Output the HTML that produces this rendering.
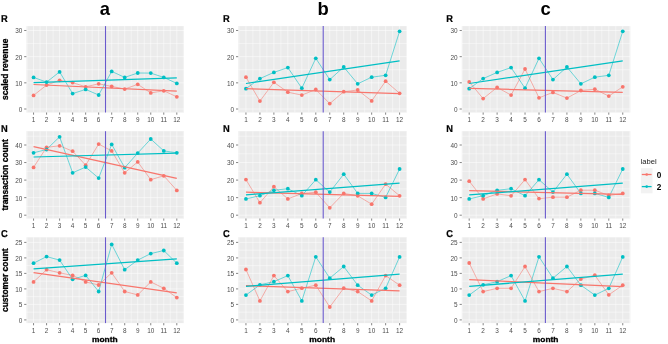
<!DOCTYPE html>
<html><head><meta charset="utf-8"><title>chart</title>
<style>
html,body{margin:0;padding:0;background:#fff;}
body{width:668px;height:344px;overflow:hidden;}
svg{display:block;filter:blur(0.4px);font-family:"Liberation Sans",sans-serif;}
</style></head><body>
<svg width="668" height="344" viewBox="0 0 668 344">
<rect width="668" height="344" fill="#fff"/>
<text x="104.8" y="14.6" font-size="18.4" font-weight="bold" text-anchor="middle" fill="#000">a</text>
<rect x="26.4" y="26.1" width="157.6" height="86.4" fill="#EBEBEB"/>
<path d="M26.4 95.91H184M26.4 69.75H184M26.4 43.58H184M27.05 26.1V112.5M40.07 26.1V112.5M53.09 26.1V112.5M66.11 26.1V112.5M79.14 26.1V112.5M92.16 26.1V112.5M105.18 26.1V112.5M118.2 26.1V112.5M131.22 26.1V112.5M144.25 26.1V112.5M157.27 26.1V112.5M170.29 26.1V112.5M183.31 26.1V112.5" stroke="#fff" stroke-opacity="0.5" stroke-width="0.9" fill="none"/>
<path d="M26.4 109H184M26.4 82.83H184M26.4 56.66H184M26.4 30.49H184M33.56 26.1V112.5M46.58 26.1V112.5M59.6 26.1V112.5M72.63 26.1V112.5M85.65 26.1V112.5M98.67 26.1V112.5M111.69 26.1V112.5M124.71 26.1V112.5M137.73 26.1V112.5M150.76 26.1V112.5M163.78 26.1V112.5M176.8 26.1V112.5" stroke="#fff" stroke-opacity="0.52" stroke-width="1" fill="none"/>
<path d="M24.2 109H26.4M24.2 82.83H26.4M24.2 56.66H26.4M24.2 30.49H26.4M33.56 112.5V114.7M46.58 112.5V114.7M59.6 112.5V114.7M72.63 112.5V114.7M85.65 112.5V114.7M98.67 112.5V114.7M111.69 112.5V114.7M124.71 112.5V114.7M137.73 112.5V114.7M150.76 112.5V114.7M163.78 112.5V114.7M176.8 112.5V114.7" stroke="#666" stroke-width="0.8" fill="none"/>
<text x="22.3" y="111.9" font-size="7.3" text-anchor="end" fill="#4D4D4D" transform="matrix(0.88 0 0 1 2.68 0)">0</text>
<text x="22.3" y="85.73" font-size="7.3" text-anchor="end" fill="#4D4D4D" transform="matrix(0.88 0 0 1 2.68 0)">10</text>
<text x="22.3" y="59.56" font-size="7.3" text-anchor="end" fill="#4D4D4D" transform="matrix(0.88 0 0 1 2.68 0)">20</text>
<text x="22.3" y="33.39" font-size="7.3" text-anchor="end" fill="#4D4D4D" transform="matrix(0.88 0 0 1 2.68 0)">30</text>
<text x="33.56" y="122.2" font-size="7.3" text-anchor="middle" fill="#4D4D4D" transform="matrix(0.88 0 0 1 4.03 0)">1</text>
<text x="46.58" y="122.2" font-size="7.3" text-anchor="middle" fill="#4D4D4D" transform="matrix(0.88 0 0 1 5.59 0)">2</text>
<text x="59.6" y="122.2" font-size="7.3" text-anchor="middle" fill="#4D4D4D" transform="matrix(0.88 0 0 1 7.15 0)">3</text>
<text x="72.63" y="122.2" font-size="7.3" text-anchor="middle" fill="#4D4D4D" transform="matrix(0.88 0 0 1 8.72 0)">4</text>
<text x="85.65" y="122.2" font-size="7.3" text-anchor="middle" fill="#4D4D4D" transform="matrix(0.88 0 0 1 10.28 0)">5</text>
<text x="98.67" y="122.2" font-size="7.3" text-anchor="middle" fill="#4D4D4D" transform="matrix(0.88 0 0 1 11.84 0)">6</text>
<text x="111.69" y="122.2" font-size="7.3" text-anchor="middle" fill="#4D4D4D" transform="matrix(0.88 0 0 1 13.4 0)">7</text>
<text x="124.71" y="122.2" font-size="7.3" text-anchor="middle" fill="#4D4D4D" transform="matrix(0.88 0 0 1 14.97 0)">8</text>
<text x="137.73" y="122.2" font-size="7.3" text-anchor="middle" fill="#4D4D4D" transform="matrix(0.88 0 0 1 16.53 0)">9</text>
<text x="150.76" y="122.2" font-size="7.3" text-anchor="middle" fill="#4D4D4D" transform="matrix(0.88 0 0 1 18.09 0)">10</text>
<text x="163.78" y="122.2" font-size="7.3" text-anchor="middle" fill="#4D4D4D" transform="matrix(0.88 0 0 1 19.65 0)">11</text>
<text x="176.8" y="122.2" font-size="7.3" text-anchor="middle" fill="#4D4D4D" transform="matrix(0.88 0 0 1 21.22 0)">12</text>
<polyline points="33.56,95.4 46.58,85.1 59.6,80.3 72.63,82.6 85.65,86.8 98.67,83.8 111.69,86.4 124.71,89.1 137.73,84.3 150.76,92.9 163.78,90.8 176.8,96.8" fill="none" stroke="#F8766D" stroke-width="0.55"/>
<polyline points="33.56,77.4 46.58,82.1 59.6,71.9 72.63,93.6 85.65,89.4 98.67,95 111.69,71.4 124.71,77.4 137.73,73 150.76,73.1 163.78,77.4 176.8,83.4" fill="none" stroke="#00BFC4" stroke-width="0.55"/>
<circle cx="33.56" cy="95.4" r="1.9" fill="#F8766D"/>
<circle cx="46.58" cy="85.1" r="1.9" fill="#F8766D"/>
<circle cx="59.6" cy="80.3" r="1.9" fill="#F8766D"/>
<circle cx="72.63" cy="82.6" r="1.9" fill="#F8766D"/>
<circle cx="85.65" cy="86.8" r="1.9" fill="#F8766D"/>
<circle cx="98.67" cy="83.8" r="1.9" fill="#F8766D"/>
<circle cx="111.69" cy="86.4" r="1.9" fill="#F8766D"/>
<circle cx="124.71" cy="89.1" r="1.9" fill="#F8766D"/>
<circle cx="137.73" cy="84.3" r="1.9" fill="#F8766D"/>
<circle cx="150.76" cy="92.9" r="1.9" fill="#F8766D"/>
<circle cx="163.78" cy="90.8" r="1.9" fill="#F8766D"/>
<circle cx="176.8" cy="96.8" r="1.9" fill="#F8766D"/>
<circle cx="33.56" cy="77.4" r="1.9" fill="#00BFC4"/>
<circle cx="46.58" cy="82.1" r="1.9" fill="#00BFC4"/>
<circle cx="59.6" cy="71.9" r="1.9" fill="#00BFC4"/>
<circle cx="72.63" cy="93.6" r="1.9" fill="#00BFC4"/>
<circle cx="85.65" cy="89.4" r="1.9" fill="#00BFC4"/>
<circle cx="98.67" cy="95" r="1.9" fill="#00BFC4"/>
<circle cx="111.69" cy="71.4" r="1.9" fill="#00BFC4"/>
<circle cx="124.71" cy="77.4" r="1.9" fill="#00BFC4"/>
<circle cx="137.73" cy="73" r="1.9" fill="#00BFC4"/>
<circle cx="150.76" cy="73.1" r="1.9" fill="#00BFC4"/>
<circle cx="163.78" cy="77.4" r="1.9" fill="#00BFC4"/>
<circle cx="176.8" cy="83.4" r="1.9" fill="#00BFC4"/>
<line x1="33.56" y1="84.5" x2="176.8" y2="91.1" stroke="#F8766D" stroke-width="1.25"/>
<line x1="33.56" y1="82.7" x2="176.8" y2="77.8" stroke="#00BFC4" stroke-width="1.25"/>
<line x1="105.5" y1="26.1" x2="105.5" y2="112.5" stroke="#6A5ACD" stroke-width="1.1"/>
<text x="1" y="22.4" font-size="10" font-weight="bold" fill="#000" stroke="#000" stroke-width="0.2" text-rendering="geometricPrecision" transform="matrix(0.93 0 0 1 0.07 0)">R</text>
<text transform="translate(7.9 69.3) rotate(-90)" font-size="8.5" font-weight="bold" text-anchor="middle" fill="#000" stroke="#000" stroke-width="0.3">scaled revenue</text>
<rect x="26.4" y="131.2" width="157.6" height="87.3" fill="#EBEBEB"/>
<path d="M26.4 206.43H184M26.4 188.88H184M26.4 171.33H184M26.4 153.78H184M26.4 136.23H184M27.05 131.2V218.5M40.07 131.2V218.5M53.09 131.2V218.5M66.11 131.2V218.5M79.14 131.2V218.5M92.16 131.2V218.5M105.18 131.2V218.5M118.2 131.2V218.5M131.22 131.2V218.5M144.25 131.2V218.5M157.27 131.2V218.5M170.29 131.2V218.5M183.31 131.2V218.5" stroke="#fff" stroke-opacity="0.5" stroke-width="0.9" fill="none"/>
<path d="M26.4 215.2H184M26.4 197.65H184M26.4 180.1H184M26.4 162.55H184M26.4 145H184M33.56 131.2V218.5M46.58 131.2V218.5M59.6 131.2V218.5M72.63 131.2V218.5M85.65 131.2V218.5M98.67 131.2V218.5M111.69 131.2V218.5M124.71 131.2V218.5M137.73 131.2V218.5M150.76 131.2V218.5M163.78 131.2V218.5M176.8 131.2V218.5" stroke="#fff" stroke-opacity="0.52" stroke-width="1" fill="none"/>
<path d="M24.2 215.2H26.4M24.2 197.65H26.4M24.2 180.1H26.4M24.2 162.55H26.4M24.2 145H26.4M33.56 218.5V220.7M46.58 218.5V220.7M59.6 218.5V220.7M72.63 218.5V220.7M85.65 218.5V220.7M98.67 218.5V220.7M111.69 218.5V220.7M124.71 218.5V220.7M137.73 218.5V220.7M150.76 218.5V220.7M163.78 218.5V220.7M176.8 218.5V220.7" stroke="#666" stroke-width="0.8" fill="none"/>
<text x="22.3" y="218.1" font-size="7.3" text-anchor="end" fill="#4D4D4D" transform="matrix(0.88 0 0 1 2.68 0)">0</text>
<text x="22.3" y="200.55" font-size="7.3" text-anchor="end" fill="#4D4D4D" transform="matrix(0.88 0 0 1 2.68 0)">10</text>
<text x="22.3" y="183" font-size="7.3" text-anchor="end" fill="#4D4D4D" transform="matrix(0.88 0 0 1 2.68 0)">20</text>
<text x="22.3" y="165.45" font-size="7.3" text-anchor="end" fill="#4D4D4D" transform="matrix(0.88 0 0 1 2.68 0)">30</text>
<text x="22.3" y="147.9" font-size="7.3" text-anchor="end" fill="#4D4D4D" transform="matrix(0.88 0 0 1 2.68 0)">40</text>
<text x="33.56" y="228.2" font-size="7.3" text-anchor="middle" fill="#4D4D4D" transform="matrix(0.88 0 0 1 4.03 0)">1</text>
<text x="46.58" y="228.2" font-size="7.3" text-anchor="middle" fill="#4D4D4D" transform="matrix(0.88 0 0 1 5.59 0)">2</text>
<text x="59.6" y="228.2" font-size="7.3" text-anchor="middle" fill="#4D4D4D" transform="matrix(0.88 0 0 1 7.15 0)">3</text>
<text x="72.63" y="228.2" font-size="7.3" text-anchor="middle" fill="#4D4D4D" transform="matrix(0.88 0 0 1 8.72 0)">4</text>
<text x="85.65" y="228.2" font-size="7.3" text-anchor="middle" fill="#4D4D4D" transform="matrix(0.88 0 0 1 10.28 0)">5</text>
<text x="98.67" y="228.2" font-size="7.3" text-anchor="middle" fill="#4D4D4D" transform="matrix(0.88 0 0 1 11.84 0)">6</text>
<text x="111.69" y="228.2" font-size="7.3" text-anchor="middle" fill="#4D4D4D" transform="matrix(0.88 0 0 1 13.4 0)">7</text>
<text x="124.71" y="228.2" font-size="7.3" text-anchor="middle" fill="#4D4D4D" transform="matrix(0.88 0 0 1 14.97 0)">8</text>
<text x="137.73" y="228.2" font-size="7.3" text-anchor="middle" fill="#4D4D4D" transform="matrix(0.88 0 0 1 16.53 0)">9</text>
<text x="150.76" y="228.2" font-size="7.3" text-anchor="middle" fill="#4D4D4D" transform="matrix(0.88 0 0 1 18.09 0)">10</text>
<text x="163.78" y="228.2" font-size="7.3" text-anchor="middle" fill="#4D4D4D" transform="matrix(0.88 0 0 1 19.65 0)">11</text>
<text x="176.8" y="228.2" font-size="7.3" text-anchor="middle" fill="#4D4D4D" transform="matrix(0.88 0 0 1 21.22 0)">12</text>
<polyline points="33.56,167.4 46.58,147.3 59.6,145.8 72.63,151.2 85.65,165.2 98.67,144.1 111.69,150.9 124.71,172.8 137.73,161.9 150.76,179.7 163.78,175.8 176.8,190.4" fill="none" stroke="#F8766D" stroke-width="0.55"/>
<polyline points="33.56,152.8 46.58,149.5 59.6,136.8 72.63,172.8 85.65,167.1 98.67,178.1 111.69,144.4 124.71,167.7 137.73,153.1 150.76,139 163.78,150.9 176.8,152.8" fill="none" stroke="#00BFC4" stroke-width="0.55"/>
<circle cx="33.56" cy="167.4" r="1.9" fill="#F8766D"/>
<circle cx="46.58" cy="147.3" r="1.9" fill="#F8766D"/>
<circle cx="59.6" cy="145.8" r="1.9" fill="#F8766D"/>
<circle cx="72.63" cy="151.2" r="1.9" fill="#F8766D"/>
<circle cx="85.65" cy="165.2" r="1.9" fill="#F8766D"/>
<circle cx="98.67" cy="144.1" r="1.9" fill="#F8766D"/>
<circle cx="111.69" cy="150.9" r="1.9" fill="#F8766D"/>
<circle cx="124.71" cy="172.8" r="1.9" fill="#F8766D"/>
<circle cx="137.73" cy="161.9" r="1.9" fill="#F8766D"/>
<circle cx="150.76" cy="179.7" r="1.9" fill="#F8766D"/>
<circle cx="163.78" cy="175.8" r="1.9" fill="#F8766D"/>
<circle cx="176.8" cy="190.4" r="1.9" fill="#F8766D"/>
<circle cx="33.56" cy="152.8" r="1.9" fill="#00BFC4"/>
<circle cx="46.58" cy="149.5" r="1.9" fill="#00BFC4"/>
<circle cx="59.6" cy="136.8" r="1.9" fill="#00BFC4"/>
<circle cx="72.63" cy="172.8" r="1.9" fill="#00BFC4"/>
<circle cx="85.65" cy="167.1" r="1.9" fill="#00BFC4"/>
<circle cx="98.67" cy="178.1" r="1.9" fill="#00BFC4"/>
<circle cx="111.69" cy="144.4" r="1.9" fill="#00BFC4"/>
<circle cx="124.71" cy="167.7" r="1.9" fill="#00BFC4"/>
<circle cx="137.73" cy="153.1" r="1.9" fill="#00BFC4"/>
<circle cx="150.76" cy="139" r="1.9" fill="#00BFC4"/>
<circle cx="163.78" cy="150.9" r="1.9" fill="#00BFC4"/>
<circle cx="176.8" cy="152.8" r="1.9" fill="#00BFC4"/>
<line x1="33.56" y1="146.6" x2="176.8" y2="178.3" stroke="#F8766D" stroke-width="1.25"/>
<line x1="33.56" y1="157" x2="176.8" y2="153.1" stroke="#00BFC4" stroke-width="1.25"/>
<line x1="105.5" y1="131.2" x2="105.5" y2="218.5" stroke="#6A5ACD" stroke-width="1.1"/>
<text x="1" y="131.6" font-size="10" font-weight="bold" fill="#000" stroke="#000" stroke-width="0.2" text-rendering="geometricPrecision" transform="matrix(0.93 0 0 1 0.07 0)">N</text>
<text transform="translate(7.9 174.85) rotate(-90)" font-size="8.5" font-weight="bold" text-anchor="middle" fill="#000" stroke="#000" stroke-width="0.3">transaction count</text>
<rect x="26.4" y="237.3" width="157.6" height="85.8" fill="#EBEBEB"/>
<path d="M26.4 312.15H184M26.4 296.65H184M26.4 281.15H184M26.4 265.65H184M26.4 250.15H184M27.05 237.3V323.1M40.07 237.3V323.1M53.09 237.3V323.1M66.11 237.3V323.1M79.14 237.3V323.1M92.16 237.3V323.1M105.18 237.3V323.1M118.2 237.3V323.1M131.22 237.3V323.1M144.25 237.3V323.1M157.27 237.3V323.1M170.29 237.3V323.1M183.31 237.3V323.1" stroke="#fff" stroke-opacity="0.5" stroke-width="0.9" fill="none"/>
<path d="M26.4 319.9H184M26.4 304.4H184M26.4 288.9H184M26.4 273.4H184M26.4 257.9H184M26.4 242.4H184M33.56 237.3V323.1M46.58 237.3V323.1M59.6 237.3V323.1M72.63 237.3V323.1M85.65 237.3V323.1M98.67 237.3V323.1M111.69 237.3V323.1M124.71 237.3V323.1M137.73 237.3V323.1M150.76 237.3V323.1M163.78 237.3V323.1M176.8 237.3V323.1" stroke="#fff" stroke-opacity="0.52" stroke-width="1" fill="none"/>
<path d="M24.2 319.9H26.4M24.2 304.4H26.4M24.2 288.9H26.4M24.2 273.4H26.4M24.2 257.9H26.4M24.2 242.4H26.4M33.56 323.1V325.3M46.58 323.1V325.3M59.6 323.1V325.3M72.63 323.1V325.3M85.65 323.1V325.3M98.67 323.1V325.3M111.69 323.1V325.3M124.71 323.1V325.3M137.73 323.1V325.3M150.76 323.1V325.3M163.78 323.1V325.3M176.8 323.1V325.3" stroke="#666" stroke-width="0.8" fill="none"/>
<text x="22.3" y="322.8" font-size="7.3" text-anchor="end" fill="#4D4D4D" transform="matrix(0.88 0 0 1 2.68 0)">0</text>
<text x="22.3" y="307.3" font-size="7.3" text-anchor="end" fill="#4D4D4D" transform="matrix(0.88 0 0 1 2.68 0)">5</text>
<text x="22.3" y="291.8" font-size="7.3" text-anchor="end" fill="#4D4D4D" transform="matrix(0.88 0 0 1 2.68 0)">10</text>
<text x="22.3" y="276.3" font-size="7.3" text-anchor="end" fill="#4D4D4D" transform="matrix(0.88 0 0 1 2.68 0)">15</text>
<text x="22.3" y="260.8" font-size="7.3" text-anchor="end" fill="#4D4D4D" transform="matrix(0.88 0 0 1 2.68 0)">20</text>
<text x="22.3" y="245.3" font-size="7.3" text-anchor="end" fill="#4D4D4D" transform="matrix(0.88 0 0 1 2.68 0)">25</text>
<text x="33.56" y="332.8" font-size="7.3" text-anchor="middle" fill="#4D4D4D" transform="matrix(0.88 0 0 1 4.03 0)">1</text>
<text x="46.58" y="332.8" font-size="7.3" text-anchor="middle" fill="#4D4D4D" transform="matrix(0.88 0 0 1 5.59 0)">2</text>
<text x="59.6" y="332.8" font-size="7.3" text-anchor="middle" fill="#4D4D4D" transform="matrix(0.88 0 0 1 7.15 0)">3</text>
<text x="72.63" y="332.8" font-size="7.3" text-anchor="middle" fill="#4D4D4D" transform="matrix(0.88 0 0 1 8.72 0)">4</text>
<text x="85.65" y="332.8" font-size="7.3" text-anchor="middle" fill="#4D4D4D" transform="matrix(0.88 0 0 1 10.28 0)">5</text>
<text x="98.67" y="332.8" font-size="7.3" text-anchor="middle" fill="#4D4D4D" transform="matrix(0.88 0 0 1 11.84 0)">6</text>
<text x="111.69" y="332.8" font-size="7.3" text-anchor="middle" fill="#4D4D4D" transform="matrix(0.88 0 0 1 13.4 0)">7</text>
<text x="124.71" y="332.8" font-size="7.3" text-anchor="middle" fill="#4D4D4D" transform="matrix(0.88 0 0 1 14.97 0)">8</text>
<text x="137.73" y="332.8" font-size="7.3" text-anchor="middle" fill="#4D4D4D" transform="matrix(0.88 0 0 1 16.53 0)">9</text>
<text x="150.76" y="332.8" font-size="7.3" text-anchor="middle" fill="#4D4D4D" transform="matrix(0.88 0 0 1 18.09 0)">10</text>
<text x="163.78" y="332.8" font-size="7.3" text-anchor="middle" fill="#4D4D4D" transform="matrix(0.88 0 0 1 19.65 0)">11</text>
<text x="176.8" y="332.8" font-size="7.3" text-anchor="middle" fill="#4D4D4D" transform="matrix(0.88 0 0 1 21.22 0)">12</text>
<polyline points="33.56,281.9 46.58,269.7 59.6,272.8 72.63,275.4 85.65,281.9 98.67,285 111.69,272.8 124.71,291.5 137.73,294.9 150.76,281.9 163.78,288.3 176.8,297.6" fill="none" stroke="#F8766D" stroke-width="0.55"/>
<polyline points="33.56,263.2 46.58,256.6 59.6,260.1 72.63,279.3 85.65,275.4 98.67,291.5 111.69,244.4 124.71,269.7 137.73,260.1 150.76,253.6 163.78,250.5 176.8,263.2" fill="none" stroke="#00BFC4" stroke-width="0.55"/>
<circle cx="33.56" cy="281.9" r="1.9" fill="#F8766D"/>
<circle cx="46.58" cy="269.7" r="1.9" fill="#F8766D"/>
<circle cx="59.6" cy="272.8" r="1.9" fill="#F8766D"/>
<circle cx="72.63" cy="275.4" r="1.9" fill="#F8766D"/>
<circle cx="85.65" cy="281.9" r="1.9" fill="#F8766D"/>
<circle cx="98.67" cy="285" r="1.9" fill="#F8766D"/>
<circle cx="111.69" cy="272.8" r="1.9" fill="#F8766D"/>
<circle cx="124.71" cy="291.5" r="1.9" fill="#F8766D"/>
<circle cx="137.73" cy="294.9" r="1.9" fill="#F8766D"/>
<circle cx="150.76" cy="281.9" r="1.9" fill="#F8766D"/>
<circle cx="163.78" cy="288.3" r="1.9" fill="#F8766D"/>
<circle cx="176.8" cy="297.6" r="1.9" fill="#F8766D"/>
<circle cx="33.56" cy="263.2" r="1.9" fill="#00BFC4"/>
<circle cx="46.58" cy="256.6" r="1.9" fill="#00BFC4"/>
<circle cx="59.6" cy="260.1" r="1.9" fill="#00BFC4"/>
<circle cx="72.63" cy="279.3" r="1.9" fill="#00BFC4"/>
<circle cx="85.65" cy="275.4" r="1.9" fill="#00BFC4"/>
<circle cx="98.67" cy="291.5" r="1.9" fill="#00BFC4"/>
<circle cx="111.69" cy="244.4" r="1.9" fill="#00BFC4"/>
<circle cx="124.71" cy="269.7" r="1.9" fill="#00BFC4"/>
<circle cx="137.73" cy="260.1" r="1.9" fill="#00BFC4"/>
<circle cx="150.76" cy="253.6" r="1.9" fill="#00BFC4"/>
<circle cx="163.78" cy="250.5" r="1.9" fill="#00BFC4"/>
<circle cx="176.8" cy="263.2" r="1.9" fill="#00BFC4"/>
<line x1="33.56" y1="272.6" x2="176.8" y2="292.9" stroke="#F8766D" stroke-width="1.25"/>
<line x1="33.56" y1="268.8" x2="176.8" y2="258.9" stroke="#00BFC4" stroke-width="1.25"/>
<line x1="105.5" y1="237.3" x2="105.5" y2="323.1" stroke="#6A5ACD" stroke-width="1.1"/>
<text x="1" y="236.5" font-size="10" font-weight="bold" fill="#000" stroke="#000" stroke-width="0.2" text-rendering="geometricPrecision" transform="matrix(0.93 0 0 1 0.07 0)">C</text>
<text transform="translate(7.9 280.2) rotate(-90)" font-size="8.5" font-weight="bold" text-anchor="middle" fill="#000" stroke="#000" stroke-width="0.3">customer count</text>
<text x="104.8" y="342.4" font-size="7.6" font-weight="bold" text-anchor="middle" fill="#000" stroke="#000" stroke-width="0.3" transform="matrix(1.11 0 0 1 -11.53 0)">month</text>
<text x="323" y="14.6" font-size="18.4" font-weight="bold" text-anchor="middle" fill="#000">b</text>
<rect x="238.2" y="26.1" width="168.8" height="86.4" fill="#EBEBEB"/>
<path d="M238.2 95.91H407M238.2 69.75H407M238.2 43.58H407M238.97 26.1V112.5M252.93 26.1V112.5M266.9 26.1V112.5M280.87 26.1V112.5M294.84 26.1V112.5M308.81 26.1V112.5M322.77 26.1V112.5M336.74 26.1V112.5M350.71 26.1V112.5M364.68 26.1V112.5M378.65 26.1V112.5M392.62 26.1V112.5M406.58 26.1V112.5" stroke="#fff" stroke-opacity="0.5" stroke-width="0.9" fill="none"/>
<path d="M238.2 109H407M238.2 82.83H407M238.2 56.66H407M238.2 30.49H407M245.95 26.1V112.5M259.92 26.1V112.5M273.89 26.1V112.5M287.85 26.1V112.5M301.82 26.1V112.5M315.79 26.1V112.5M329.76 26.1V112.5M343.73 26.1V112.5M357.7 26.1V112.5M371.66 26.1V112.5M385.63 26.1V112.5M399.6 26.1V112.5" stroke="#fff" stroke-opacity="0.52" stroke-width="1" fill="none"/>
<path d="M236 109H238.2M236 82.83H238.2M236 56.66H238.2M236 30.49H238.2M245.95 112.5V114.7M259.92 112.5V114.7M273.89 112.5V114.7M287.85 112.5V114.7M301.82 112.5V114.7M315.79 112.5V114.7M329.76 112.5V114.7M343.73 112.5V114.7M357.7 112.5V114.7M371.66 112.5V114.7M385.63 112.5V114.7M399.6 112.5V114.7" stroke="#666" stroke-width="0.8" fill="none"/>
<text x="234.1" y="111.9" font-size="7.3" text-anchor="end" fill="#4D4D4D" transform="matrix(0.88 0 0 1 28.09 0)">0</text>
<text x="234.1" y="85.73" font-size="7.3" text-anchor="end" fill="#4D4D4D" transform="matrix(0.88 0 0 1 28.09 0)">10</text>
<text x="234.1" y="59.56" font-size="7.3" text-anchor="end" fill="#4D4D4D" transform="matrix(0.88 0 0 1 28.09 0)">20</text>
<text x="234.1" y="33.39" font-size="7.3" text-anchor="end" fill="#4D4D4D" transform="matrix(0.88 0 0 1 28.09 0)">30</text>
<text x="245.95" y="122.2" font-size="7.3" text-anchor="middle" fill="#4D4D4D" transform="matrix(0.88 0 0 1 29.51 0)">1</text>
<text x="259.92" y="122.2" font-size="7.3" text-anchor="middle" fill="#4D4D4D" transform="matrix(0.88 0 0 1 31.19 0)">2</text>
<text x="273.89" y="122.2" font-size="7.3" text-anchor="middle" fill="#4D4D4D" transform="matrix(0.88 0 0 1 32.87 0)">3</text>
<text x="287.85" y="122.2" font-size="7.3" text-anchor="middle" fill="#4D4D4D" transform="matrix(0.88 0 0 1 34.54 0)">4</text>
<text x="301.82" y="122.2" font-size="7.3" text-anchor="middle" fill="#4D4D4D" transform="matrix(0.88 0 0 1 36.22 0)">5</text>
<text x="315.79" y="122.2" font-size="7.3" text-anchor="middle" fill="#4D4D4D" transform="matrix(0.88 0 0 1 37.89 0)">6</text>
<text x="329.76" y="122.2" font-size="7.3" text-anchor="middle" fill="#4D4D4D" transform="matrix(0.88 0 0 1 39.57 0)">7</text>
<text x="343.73" y="122.2" font-size="7.3" text-anchor="middle" fill="#4D4D4D" transform="matrix(0.88 0 0 1 41.25 0)">8</text>
<text x="357.7" y="122.2" font-size="7.3" text-anchor="middle" fill="#4D4D4D" transform="matrix(0.88 0 0 1 42.92 0)">9</text>
<text x="371.66" y="122.2" font-size="7.3" text-anchor="middle" fill="#4D4D4D" transform="matrix(0.88 0 0 1 44.6 0)">10</text>
<text x="385.63" y="122.2" font-size="7.3" text-anchor="middle" fill="#4D4D4D" transform="matrix(0.88 0 0 1 46.28 0)">11</text>
<text x="399.6" y="122.2" font-size="7.3" text-anchor="middle" fill="#4D4D4D" transform="matrix(0.88 0 0 1 47.95 0)">12</text>
<polyline points="245.95,77.2 259.92,101.1 273.89,82.3 287.85,92.2 301.82,95.1 315.79,89.5 329.76,103.6 343.73,91.7 357.7,90 371.66,100.9 385.63,81.2 399.6,93.3" fill="none" stroke="#F8766D" stroke-width="0.55"/>
<polyline points="245.95,88.7 259.92,78.6 273.89,72.4 287.85,67.6 301.82,88.2 315.79,58.3 329.76,79.6 343.73,67 357.7,83.8 371.66,77.2 385.63,75.3 399.6,31.3" fill="none" stroke="#00BFC4" stroke-width="0.55"/>
<circle cx="245.95" cy="77.2" r="1.9" fill="#F8766D"/>
<circle cx="259.92" cy="101.1" r="1.9" fill="#F8766D"/>
<circle cx="273.89" cy="82.3" r="1.9" fill="#F8766D"/>
<circle cx="287.85" cy="92.2" r="1.9" fill="#F8766D"/>
<circle cx="301.82" cy="95.1" r="1.9" fill="#F8766D"/>
<circle cx="315.79" cy="89.5" r="1.9" fill="#F8766D"/>
<circle cx="329.76" cy="103.6" r="1.9" fill="#F8766D"/>
<circle cx="343.73" cy="91.7" r="1.9" fill="#F8766D"/>
<circle cx="357.7" cy="90" r="1.9" fill="#F8766D"/>
<circle cx="371.66" cy="100.9" r="1.9" fill="#F8766D"/>
<circle cx="385.63" cy="81.2" r="1.9" fill="#F8766D"/>
<circle cx="399.6" cy="93.3" r="1.9" fill="#F8766D"/>
<circle cx="245.95" cy="88.7" r="1.9" fill="#00BFC4"/>
<circle cx="259.92" cy="78.6" r="1.9" fill="#00BFC4"/>
<circle cx="273.89" cy="72.4" r="1.9" fill="#00BFC4"/>
<circle cx="287.85" cy="67.6" r="1.9" fill="#00BFC4"/>
<circle cx="301.82" cy="88.2" r="1.9" fill="#00BFC4"/>
<circle cx="315.79" cy="58.3" r="1.9" fill="#00BFC4"/>
<circle cx="329.76" cy="79.6" r="1.9" fill="#00BFC4"/>
<circle cx="343.73" cy="67" r="1.9" fill="#00BFC4"/>
<circle cx="357.7" cy="83.8" r="1.9" fill="#00BFC4"/>
<circle cx="371.66" cy="77.2" r="1.9" fill="#00BFC4"/>
<circle cx="385.63" cy="75.3" r="1.9" fill="#00BFC4"/>
<circle cx="399.6" cy="31.3" r="1.9" fill="#00BFC4"/>
<line x1="245.95" y1="88.7" x2="399.6" y2="93.7" stroke="#F8766D" stroke-width="1.25"/>
<line x1="245.95" y1="83.5" x2="399.6" y2="60.9" stroke="#00BFC4" stroke-width="1.25"/>
<line x1="323.2" y1="26.1" x2="323.2" y2="112.5" stroke="#6A5ACD" stroke-width="1.1"/>
<text x="222.9" y="22.4" font-size="10" font-weight="bold" fill="#000" stroke="#000" stroke-width="0.2" text-rendering="geometricPrecision" transform="matrix(0.93 0 0 1 15.6 0)">R</text>
<rect x="238.2" y="131.2" width="168.8" height="87.3" fill="#EBEBEB"/>
<path d="M238.2 206.43H407M238.2 188.88H407M238.2 171.33H407M238.2 153.78H407M238.2 136.23H407M238.97 131.2V218.5M252.93 131.2V218.5M266.9 131.2V218.5M280.87 131.2V218.5M294.84 131.2V218.5M308.81 131.2V218.5M322.77 131.2V218.5M336.74 131.2V218.5M350.71 131.2V218.5M364.68 131.2V218.5M378.65 131.2V218.5M392.62 131.2V218.5M406.58 131.2V218.5" stroke="#fff" stroke-opacity="0.5" stroke-width="0.9" fill="none"/>
<path d="M238.2 215.2H407M238.2 197.65H407M238.2 180.1H407M238.2 162.55H407M238.2 145H407M245.95 131.2V218.5M259.92 131.2V218.5M273.89 131.2V218.5M287.85 131.2V218.5M301.82 131.2V218.5M315.79 131.2V218.5M329.76 131.2V218.5M343.73 131.2V218.5M357.7 131.2V218.5M371.66 131.2V218.5M385.63 131.2V218.5M399.6 131.2V218.5" stroke="#fff" stroke-opacity="0.52" stroke-width="1" fill="none"/>
<path d="M236 215.2H238.2M236 197.65H238.2M236 180.1H238.2M236 162.55H238.2M236 145H238.2M245.95 218.5V220.7M259.92 218.5V220.7M273.89 218.5V220.7M287.85 218.5V220.7M301.82 218.5V220.7M315.79 218.5V220.7M329.76 218.5V220.7M343.73 218.5V220.7M357.7 218.5V220.7M371.66 218.5V220.7M385.63 218.5V220.7M399.6 218.5V220.7" stroke="#666" stroke-width="0.8" fill="none"/>
<text x="234.1" y="218.1" font-size="7.3" text-anchor="end" fill="#4D4D4D" transform="matrix(0.88 0 0 1 28.09 0)">0</text>
<text x="234.1" y="200.55" font-size="7.3" text-anchor="end" fill="#4D4D4D" transform="matrix(0.88 0 0 1 28.09 0)">10</text>
<text x="234.1" y="183" font-size="7.3" text-anchor="end" fill="#4D4D4D" transform="matrix(0.88 0 0 1 28.09 0)">20</text>
<text x="234.1" y="165.45" font-size="7.3" text-anchor="end" fill="#4D4D4D" transform="matrix(0.88 0 0 1 28.09 0)">30</text>
<text x="234.1" y="147.9" font-size="7.3" text-anchor="end" fill="#4D4D4D" transform="matrix(0.88 0 0 1 28.09 0)">40</text>
<text x="245.95" y="228.2" font-size="7.3" text-anchor="middle" fill="#4D4D4D" transform="matrix(0.88 0 0 1 29.51 0)">1</text>
<text x="259.92" y="228.2" font-size="7.3" text-anchor="middle" fill="#4D4D4D" transform="matrix(0.88 0 0 1 31.19 0)">2</text>
<text x="273.89" y="228.2" font-size="7.3" text-anchor="middle" fill="#4D4D4D" transform="matrix(0.88 0 0 1 32.87 0)">3</text>
<text x="287.85" y="228.2" font-size="7.3" text-anchor="middle" fill="#4D4D4D" transform="matrix(0.88 0 0 1 34.54 0)">4</text>
<text x="301.82" y="228.2" font-size="7.3" text-anchor="middle" fill="#4D4D4D" transform="matrix(0.88 0 0 1 36.22 0)">5</text>
<text x="315.79" y="228.2" font-size="7.3" text-anchor="middle" fill="#4D4D4D" transform="matrix(0.88 0 0 1 37.89 0)">6</text>
<text x="329.76" y="228.2" font-size="7.3" text-anchor="middle" fill="#4D4D4D" transform="matrix(0.88 0 0 1 39.57 0)">7</text>
<text x="343.73" y="228.2" font-size="7.3" text-anchor="middle" fill="#4D4D4D" transform="matrix(0.88 0 0 1 41.25 0)">8</text>
<text x="357.7" y="228.2" font-size="7.3" text-anchor="middle" fill="#4D4D4D" transform="matrix(0.88 0 0 1 42.92 0)">9</text>
<text x="371.66" y="228.2" font-size="7.3" text-anchor="middle" fill="#4D4D4D" transform="matrix(0.88 0 0 1 44.6 0)">10</text>
<text x="385.63" y="228.2" font-size="7.3" text-anchor="middle" fill="#4D4D4D" transform="matrix(0.88 0 0 1 46.28 0)">11</text>
<text x="399.6" y="228.2" font-size="7.3" text-anchor="middle" fill="#4D4D4D" transform="matrix(0.88 0 0 1 47.95 0)">12</text>
<polyline points="245.95,179.6 259.92,202.7 273.89,186.7 287.85,198.9 301.82,193.5 315.79,192.2 329.76,207.8 343.73,193.4 357.7,195.8 371.66,204.2 385.63,184.1 399.6,195.8" fill="none" stroke="#F8766D" stroke-width="0.55"/>
<polyline points="245.95,198.9 259.92,195.7 273.89,190.3 287.85,188.7 301.82,195.7 315.79,179.7 329.76,192.1 343.73,174.2 357.7,193.4 371.66,193.4 385.63,197.4 399.6,169" fill="none" stroke="#00BFC4" stroke-width="0.55"/>
<circle cx="245.95" cy="179.6" r="1.9" fill="#F8766D"/>
<circle cx="259.92" cy="202.7" r="1.9" fill="#F8766D"/>
<circle cx="273.89" cy="186.7" r="1.9" fill="#F8766D"/>
<circle cx="287.85" cy="198.9" r="1.9" fill="#F8766D"/>
<circle cx="301.82" cy="193.5" r="1.9" fill="#F8766D"/>
<circle cx="315.79" cy="192.2" r="1.9" fill="#F8766D"/>
<circle cx="329.76" cy="207.8" r="1.9" fill="#F8766D"/>
<circle cx="343.73" cy="193.4" r="1.9" fill="#F8766D"/>
<circle cx="357.7" cy="195.8" r="1.9" fill="#F8766D"/>
<circle cx="371.66" cy="204.2" r="1.9" fill="#F8766D"/>
<circle cx="385.63" cy="184.1" r="1.9" fill="#F8766D"/>
<circle cx="399.6" cy="195.8" r="1.9" fill="#F8766D"/>
<circle cx="245.95" cy="198.9" r="1.9" fill="#00BFC4"/>
<circle cx="259.92" cy="195.7" r="1.9" fill="#00BFC4"/>
<circle cx="273.89" cy="190.3" r="1.9" fill="#00BFC4"/>
<circle cx="287.85" cy="188.7" r="1.9" fill="#00BFC4"/>
<circle cx="301.82" cy="195.7" r="1.9" fill="#00BFC4"/>
<circle cx="315.79" cy="179.7" r="1.9" fill="#00BFC4"/>
<circle cx="329.76" cy="192.1" r="1.9" fill="#00BFC4"/>
<circle cx="343.73" cy="174.2" r="1.9" fill="#00BFC4"/>
<circle cx="357.7" cy="193.4" r="1.9" fill="#00BFC4"/>
<circle cx="371.66" cy="193.4" r="1.9" fill="#00BFC4"/>
<circle cx="385.63" cy="197.4" r="1.9" fill="#00BFC4"/>
<circle cx="399.6" cy="169" r="1.9" fill="#00BFC4"/>
<line x1="245.95" y1="192.2" x2="399.6" y2="196.3" stroke="#F8766D" stroke-width="1.25"/>
<line x1="245.95" y1="194.8" x2="399.6" y2="183.2" stroke="#00BFC4" stroke-width="1.25"/>
<line x1="323.2" y1="131.2" x2="323.2" y2="218.5" stroke="#6A5ACD" stroke-width="1.1"/>
<text x="222.9" y="131.6" font-size="10" font-weight="bold" fill="#000" stroke="#000" stroke-width="0.2" text-rendering="geometricPrecision" transform="matrix(0.93 0 0 1 15.6 0)">N</text>
<rect x="238.2" y="237.3" width="168.8" height="85.8" fill="#EBEBEB"/>
<path d="M238.2 312.15H407M238.2 296.65H407M238.2 281.15H407M238.2 265.65H407M238.2 250.15H407M238.97 237.3V323.1M252.93 237.3V323.1M266.9 237.3V323.1M280.87 237.3V323.1M294.84 237.3V323.1M308.81 237.3V323.1M322.77 237.3V323.1M336.74 237.3V323.1M350.71 237.3V323.1M364.68 237.3V323.1M378.65 237.3V323.1M392.62 237.3V323.1M406.58 237.3V323.1" stroke="#fff" stroke-opacity="0.5" stroke-width="0.9" fill="none"/>
<path d="M238.2 319.9H407M238.2 304.4H407M238.2 288.9H407M238.2 273.4H407M238.2 257.9H407M238.2 242.4H407M245.95 237.3V323.1M259.92 237.3V323.1M273.89 237.3V323.1M287.85 237.3V323.1M301.82 237.3V323.1M315.79 237.3V323.1M329.76 237.3V323.1M343.73 237.3V323.1M357.7 237.3V323.1M371.66 237.3V323.1M385.63 237.3V323.1M399.6 237.3V323.1" stroke="#fff" stroke-opacity="0.52" stroke-width="1" fill="none"/>
<path d="M236 319.9H238.2M236 304.4H238.2M236 288.9H238.2M236 273.4H238.2M236 257.9H238.2M236 242.4H238.2M245.95 323.1V325.3M259.92 323.1V325.3M273.89 323.1V325.3M287.85 323.1V325.3M301.82 323.1V325.3M315.79 323.1V325.3M329.76 323.1V325.3M343.73 323.1V325.3M357.7 323.1V325.3M371.66 323.1V325.3M385.63 323.1V325.3M399.6 323.1V325.3" stroke="#666" stroke-width="0.8" fill="none"/>
<text x="234.1" y="322.8" font-size="7.3" text-anchor="end" fill="#4D4D4D" transform="matrix(0.88 0 0 1 28.09 0)">0</text>
<text x="234.1" y="307.3" font-size="7.3" text-anchor="end" fill="#4D4D4D" transform="matrix(0.88 0 0 1 28.09 0)">5</text>
<text x="234.1" y="291.8" font-size="7.3" text-anchor="end" fill="#4D4D4D" transform="matrix(0.88 0 0 1 28.09 0)">10</text>
<text x="234.1" y="276.3" font-size="7.3" text-anchor="end" fill="#4D4D4D" transform="matrix(0.88 0 0 1 28.09 0)">15</text>
<text x="234.1" y="260.8" font-size="7.3" text-anchor="end" fill="#4D4D4D" transform="matrix(0.88 0 0 1 28.09 0)">20</text>
<text x="234.1" y="245.3" font-size="7.3" text-anchor="end" fill="#4D4D4D" transform="matrix(0.88 0 0 1 28.09 0)">25</text>
<text x="245.95" y="332.8" font-size="7.3" text-anchor="middle" fill="#4D4D4D" transform="matrix(0.88 0 0 1 29.51 0)">1</text>
<text x="259.92" y="332.8" font-size="7.3" text-anchor="middle" fill="#4D4D4D" transform="matrix(0.88 0 0 1 31.19 0)">2</text>
<text x="273.89" y="332.8" font-size="7.3" text-anchor="middle" fill="#4D4D4D" transform="matrix(0.88 0 0 1 32.87 0)">3</text>
<text x="287.85" y="332.8" font-size="7.3" text-anchor="middle" fill="#4D4D4D" transform="matrix(0.88 0 0 1 34.54 0)">4</text>
<text x="301.82" y="332.8" font-size="7.3" text-anchor="middle" fill="#4D4D4D" transform="matrix(0.88 0 0 1 36.22 0)">5</text>
<text x="315.79" y="332.8" font-size="7.3" text-anchor="middle" fill="#4D4D4D" transform="matrix(0.88 0 0 1 37.89 0)">6</text>
<text x="329.76" y="332.8" font-size="7.3" text-anchor="middle" fill="#4D4D4D" transform="matrix(0.88 0 0 1 39.57 0)">7</text>
<text x="343.73" y="332.8" font-size="7.3" text-anchor="middle" fill="#4D4D4D" transform="matrix(0.88 0 0 1 41.25 0)">8</text>
<text x="357.7" y="332.8" font-size="7.3" text-anchor="middle" fill="#4D4D4D" transform="matrix(0.88 0 0 1 42.92 0)">9</text>
<text x="371.66" y="332.8" font-size="7.3" text-anchor="middle" fill="#4D4D4D" transform="matrix(0.88 0 0 1 44.6 0)">10</text>
<text x="385.63" y="332.8" font-size="7.3" text-anchor="middle" fill="#4D4D4D" transform="matrix(0.88 0 0 1 46.28 0)">11</text>
<text x="399.6" y="332.8" font-size="7.3" text-anchor="middle" fill="#4D4D4D" transform="matrix(0.88 0 0 1 47.95 0)">12</text>
<polyline points="245.95,269.5 259.92,300.9 273.89,275.6 287.85,291.6 301.82,288.2 315.79,285.2 329.76,307 343.73,288.2 357.7,291.6 371.66,300.9 385.63,275.6 399.6,285.2" fill="none" stroke="#F8766D" stroke-width="0.55"/>
<polyline points="245.95,295.1 259.92,284.8 273.89,281.7 287.85,275.6 301.82,300.9 315.79,256.8 329.76,278.2 343.73,266.5 357.7,285.2 371.66,295.1 385.63,288.3 399.6,256.9" fill="none" stroke="#00BFC4" stroke-width="0.55"/>
<circle cx="245.95" cy="269.5" r="1.9" fill="#F8766D"/>
<circle cx="259.92" cy="300.9" r="1.9" fill="#F8766D"/>
<circle cx="273.89" cy="275.6" r="1.9" fill="#F8766D"/>
<circle cx="287.85" cy="291.6" r="1.9" fill="#F8766D"/>
<circle cx="301.82" cy="288.2" r="1.9" fill="#F8766D"/>
<circle cx="315.79" cy="285.2" r="1.9" fill="#F8766D"/>
<circle cx="329.76" cy="307" r="1.9" fill="#F8766D"/>
<circle cx="343.73" cy="288.2" r="1.9" fill="#F8766D"/>
<circle cx="357.7" cy="291.6" r="1.9" fill="#F8766D"/>
<circle cx="371.66" cy="300.9" r="1.9" fill="#F8766D"/>
<circle cx="385.63" cy="275.6" r="1.9" fill="#F8766D"/>
<circle cx="399.6" cy="285.2" r="1.9" fill="#F8766D"/>
<circle cx="245.95" cy="295.1" r="1.9" fill="#00BFC4"/>
<circle cx="259.92" cy="284.8" r="1.9" fill="#00BFC4"/>
<circle cx="273.89" cy="281.7" r="1.9" fill="#00BFC4"/>
<circle cx="287.85" cy="275.6" r="1.9" fill="#00BFC4"/>
<circle cx="301.82" cy="300.9" r="1.9" fill="#00BFC4"/>
<circle cx="315.79" cy="256.8" r="1.9" fill="#00BFC4"/>
<circle cx="329.76" cy="278.2" r="1.9" fill="#00BFC4"/>
<circle cx="343.73" cy="266.5" r="1.9" fill="#00BFC4"/>
<circle cx="357.7" cy="285.2" r="1.9" fill="#00BFC4"/>
<circle cx="371.66" cy="295.1" r="1.9" fill="#00BFC4"/>
<circle cx="385.63" cy="288.3" r="1.9" fill="#00BFC4"/>
<circle cx="399.6" cy="256.9" r="1.9" fill="#00BFC4"/>
<line x1="245.95" y1="285.7" x2="399.6" y2="290.9" stroke="#F8766D" stroke-width="1.25"/>
<line x1="245.95" y1="286.4" x2="399.6" y2="274.2" stroke="#00BFC4" stroke-width="1.25"/>
<line x1="323.2" y1="237.3" x2="323.2" y2="323.1" stroke="#6A5ACD" stroke-width="1.1"/>
<text x="222.9" y="236.5" font-size="10" font-weight="bold" fill="#000" stroke="#000" stroke-width="0.2" text-rendering="geometricPrecision" transform="matrix(0.93 0 0 1 15.6 0)">C</text>
<text x="322.2" y="342.4" font-size="7.6" font-weight="bold" text-anchor="middle" fill="#000" stroke="#000" stroke-width="0.3" transform="matrix(1.11 0 0 1 -35.44 0)">month</text>
<text x="545.6" y="14.6" font-size="18.4" font-weight="bold" text-anchor="middle" fill="#000">c</text>
<rect x="461.8" y="26.1" width="168.5" height="86.4" fill="#EBEBEB"/>
<path d="M461.8 95.91H630.3M461.8 69.75H630.3M461.8 43.58H630.3M462.22 26.1V112.5M476.18 26.1V112.5M490.14 26.1V112.5M504.1 26.1V112.5M518.06 26.1V112.5M532.02 26.1V112.5M545.98 26.1V112.5M559.93 26.1V112.5M573.89 26.1V112.5M587.85 26.1V112.5M601.81 26.1V112.5M615.77 26.1V112.5M629.73 26.1V112.5" stroke="#fff" stroke-opacity="0.5" stroke-width="0.9" fill="none"/>
<path d="M461.8 109H630.3M461.8 82.83H630.3M461.8 56.66H630.3M461.8 30.49H630.3M469.2 26.1V112.5M483.16 26.1V112.5M497.12 26.1V112.5M511.08 26.1V112.5M525.04 26.1V112.5M539 26.1V112.5M552.95 26.1V112.5M566.91 26.1V112.5M580.87 26.1V112.5M594.83 26.1V112.5M608.79 26.1V112.5M622.75 26.1V112.5" stroke="#fff" stroke-opacity="0.52" stroke-width="1" fill="none"/>
<path d="M459.6 109H461.8M459.6 82.83H461.8M459.6 56.66H461.8M459.6 30.49H461.8M469.2 112.5V114.7M483.16 112.5V114.7M497.12 112.5V114.7M511.08 112.5V114.7M525.04 112.5V114.7M539 112.5V114.7M552.95 112.5V114.7M566.91 112.5V114.7M580.87 112.5V114.7M594.83 112.5V114.7M608.79 112.5V114.7M622.75 112.5V114.7" stroke="#666" stroke-width="0.8" fill="none"/>
<text x="457.7" y="111.9" font-size="7.3" text-anchor="end" fill="#4D4D4D" transform="matrix(0.88 0 0 1 54.92 0)">0</text>
<text x="457.7" y="85.73" font-size="7.3" text-anchor="end" fill="#4D4D4D" transform="matrix(0.88 0 0 1 54.92 0)">10</text>
<text x="457.7" y="59.56" font-size="7.3" text-anchor="end" fill="#4D4D4D" transform="matrix(0.88 0 0 1 54.92 0)">20</text>
<text x="457.7" y="33.39" font-size="7.3" text-anchor="end" fill="#4D4D4D" transform="matrix(0.88 0 0 1 54.92 0)">30</text>
<text x="469.2" y="122.2" font-size="7.3" text-anchor="middle" fill="#4D4D4D" transform="matrix(0.88 0 0 1 56.3 0)">1</text>
<text x="483.16" y="122.2" font-size="7.3" text-anchor="middle" fill="#4D4D4D" transform="matrix(0.88 0 0 1 57.98 0)">2</text>
<text x="497.12" y="122.2" font-size="7.3" text-anchor="middle" fill="#4D4D4D" transform="matrix(0.88 0 0 1 59.65 0)">3</text>
<text x="511.08" y="122.2" font-size="7.3" text-anchor="middle" fill="#4D4D4D" transform="matrix(0.88 0 0 1 61.33 0)">4</text>
<text x="525.04" y="122.2" font-size="7.3" text-anchor="middle" fill="#4D4D4D" transform="matrix(0.88 0 0 1 63 0)">5</text>
<text x="539" y="122.2" font-size="7.3" text-anchor="middle" fill="#4D4D4D" transform="matrix(0.88 0 0 1 64.68 0)">6</text>
<text x="552.95" y="122.2" font-size="7.3" text-anchor="middle" fill="#4D4D4D" transform="matrix(0.88 0 0 1 66.35 0)">7</text>
<text x="566.91" y="122.2" font-size="7.3" text-anchor="middle" fill="#4D4D4D" transform="matrix(0.88 0 0 1 68.03 0)">8</text>
<text x="580.87" y="122.2" font-size="7.3" text-anchor="middle" fill="#4D4D4D" transform="matrix(0.88 0 0 1 69.7 0)">9</text>
<text x="594.83" y="122.2" font-size="7.3" text-anchor="middle" fill="#4D4D4D" transform="matrix(0.88 0 0 1 71.38 0)">10</text>
<text x="608.79" y="122.2" font-size="7.3" text-anchor="middle" fill="#4D4D4D" transform="matrix(0.88 0 0 1 73.05 0)">11</text>
<text x="622.75" y="122.2" font-size="7.3" text-anchor="middle" fill="#4D4D4D" transform="matrix(0.88 0 0 1 74.73 0)">12</text>
<polyline points="469.2,81.9 483.16,98.6 497.12,87.4 511.08,95.1 525.04,69 539,97.8 552.95,92.4 566.91,98.1 580.87,90.5 594.83,89.2 608.79,96.1 622.75,86.8" fill="none" stroke="#F8766D" stroke-width="0.55"/>
<polyline points="469.2,88.7 483.16,78.6 497.12,72.4 511.08,67.6 525.04,88.2 539,58.3 552.95,79.6 566.91,67 580.87,83.8 594.83,77.2 608.79,75.3 622.75,31.3" fill="none" stroke="#00BFC4" stroke-width="0.55"/>
<circle cx="469.2" cy="81.9" r="1.9" fill="#F8766D"/>
<circle cx="483.16" cy="98.6" r="1.9" fill="#F8766D"/>
<circle cx="497.12" cy="87.4" r="1.9" fill="#F8766D"/>
<circle cx="511.08" cy="95.1" r="1.9" fill="#F8766D"/>
<circle cx="525.04" cy="69" r="1.9" fill="#F8766D"/>
<circle cx="539" cy="97.8" r="1.9" fill="#F8766D"/>
<circle cx="552.95" cy="92.4" r="1.9" fill="#F8766D"/>
<circle cx="566.91" cy="98.1" r="1.9" fill="#F8766D"/>
<circle cx="580.87" cy="90.5" r="1.9" fill="#F8766D"/>
<circle cx="594.83" cy="89.2" r="1.9" fill="#F8766D"/>
<circle cx="608.79" cy="96.1" r="1.9" fill="#F8766D"/>
<circle cx="622.75" cy="86.8" r="1.9" fill="#F8766D"/>
<circle cx="469.2" cy="88.7" r="1.9" fill="#00BFC4"/>
<circle cx="483.16" cy="78.6" r="1.9" fill="#00BFC4"/>
<circle cx="497.12" cy="72.4" r="1.9" fill="#00BFC4"/>
<circle cx="511.08" cy="67.6" r="1.9" fill="#00BFC4"/>
<circle cx="525.04" cy="88.2" r="1.9" fill="#00BFC4"/>
<circle cx="539" cy="58.3" r="1.9" fill="#00BFC4"/>
<circle cx="552.95" cy="79.6" r="1.9" fill="#00BFC4"/>
<circle cx="566.91" cy="67" r="1.9" fill="#00BFC4"/>
<circle cx="580.87" cy="83.8" r="1.9" fill="#00BFC4"/>
<circle cx="594.83" cy="77.2" r="1.9" fill="#00BFC4"/>
<circle cx="608.79" cy="75.3" r="1.9" fill="#00BFC4"/>
<circle cx="622.75" cy="31.3" r="1.9" fill="#00BFC4"/>
<line x1="469.2" y1="88.3" x2="622.75" y2="92.4" stroke="#F8766D" stroke-width="1.25"/>
<line x1="469.2" y1="83.5" x2="622.75" y2="60.9" stroke="#00BFC4" stroke-width="1.25"/>
<line x1="545.4" y1="26.1" x2="545.4" y2="112.5" stroke="#6A5ACD" stroke-width="1.1"/>
<text x="446.3" y="22.4" font-size="10" font-weight="bold" fill="#000" stroke="#000" stroke-width="0.2" text-rendering="geometricPrecision" transform="matrix(0.93 0 0 1 31.24 0)">R</text>
<rect x="461.8" y="131.2" width="168.5" height="87.3" fill="#EBEBEB"/>
<path d="M461.8 206.43H630.3M461.8 188.88H630.3M461.8 171.33H630.3M461.8 153.78H630.3M461.8 136.23H630.3M462.22 131.2V218.5M476.18 131.2V218.5M490.14 131.2V218.5M504.1 131.2V218.5M518.06 131.2V218.5M532.02 131.2V218.5M545.98 131.2V218.5M559.93 131.2V218.5M573.89 131.2V218.5M587.85 131.2V218.5M601.81 131.2V218.5M615.77 131.2V218.5M629.73 131.2V218.5" stroke="#fff" stroke-opacity="0.5" stroke-width="0.9" fill="none"/>
<path d="M461.8 215.2H630.3M461.8 197.65H630.3M461.8 180.1H630.3M461.8 162.55H630.3M461.8 145H630.3M469.2 131.2V218.5M483.16 131.2V218.5M497.12 131.2V218.5M511.08 131.2V218.5M525.04 131.2V218.5M539 131.2V218.5M552.95 131.2V218.5M566.91 131.2V218.5M580.87 131.2V218.5M594.83 131.2V218.5M608.79 131.2V218.5M622.75 131.2V218.5" stroke="#fff" stroke-opacity="0.52" stroke-width="1" fill="none"/>
<path d="M459.6 215.2H461.8M459.6 197.65H461.8M459.6 180.1H461.8M459.6 162.55H461.8M459.6 145H461.8M469.2 218.5V220.7M483.16 218.5V220.7M497.12 218.5V220.7M511.08 218.5V220.7M525.04 218.5V220.7M539 218.5V220.7M552.95 218.5V220.7M566.91 218.5V220.7M580.87 218.5V220.7M594.83 218.5V220.7M608.79 218.5V220.7M622.75 218.5V220.7" stroke="#666" stroke-width="0.8" fill="none"/>
<text x="457.7" y="218.1" font-size="7.3" text-anchor="end" fill="#4D4D4D" transform="matrix(0.88 0 0 1 54.92 0)">0</text>
<text x="457.7" y="200.55" font-size="7.3" text-anchor="end" fill="#4D4D4D" transform="matrix(0.88 0 0 1 54.92 0)">10</text>
<text x="457.7" y="183" font-size="7.3" text-anchor="end" fill="#4D4D4D" transform="matrix(0.88 0 0 1 54.92 0)">20</text>
<text x="457.7" y="165.45" font-size="7.3" text-anchor="end" fill="#4D4D4D" transform="matrix(0.88 0 0 1 54.92 0)">30</text>
<text x="457.7" y="147.9" font-size="7.3" text-anchor="end" fill="#4D4D4D" transform="matrix(0.88 0 0 1 54.92 0)">40</text>
<text x="469.2" y="228.2" font-size="7.3" text-anchor="middle" fill="#4D4D4D" transform="matrix(0.88 0 0 1 56.3 0)">1</text>
<text x="483.16" y="228.2" font-size="7.3" text-anchor="middle" fill="#4D4D4D" transform="matrix(0.88 0 0 1 57.98 0)">2</text>
<text x="497.12" y="228.2" font-size="7.3" text-anchor="middle" fill="#4D4D4D" transform="matrix(0.88 0 0 1 59.65 0)">3</text>
<text x="511.08" y="228.2" font-size="7.3" text-anchor="middle" fill="#4D4D4D" transform="matrix(0.88 0 0 1 61.33 0)">4</text>
<text x="525.04" y="228.2" font-size="7.3" text-anchor="middle" fill="#4D4D4D" transform="matrix(0.88 0 0 1 63 0)">5</text>
<text x="539" y="228.2" font-size="7.3" text-anchor="middle" fill="#4D4D4D" transform="matrix(0.88 0 0 1 64.68 0)">6</text>
<text x="552.95" y="228.2" font-size="7.3" text-anchor="middle" fill="#4D4D4D" transform="matrix(0.88 0 0 1 66.35 0)">7</text>
<text x="566.91" y="228.2" font-size="7.3" text-anchor="middle" fill="#4D4D4D" transform="matrix(0.88 0 0 1 68.03 0)">8</text>
<text x="580.87" y="228.2" font-size="7.3" text-anchor="middle" fill="#4D4D4D" transform="matrix(0.88 0 0 1 69.7 0)">9</text>
<text x="594.83" y="228.2" font-size="7.3" text-anchor="middle" fill="#4D4D4D" transform="matrix(0.88 0 0 1 71.38 0)">10</text>
<text x="608.79" y="228.2" font-size="7.3" text-anchor="middle" fill="#4D4D4D" transform="matrix(0.88 0 0 1 73.05 0)">11</text>
<text x="622.75" y="228.2" font-size="7.3" text-anchor="middle" fill="#4D4D4D" transform="matrix(0.88 0 0 1 74.73 0)">12</text>
<polyline points="469.2,181.2 483.16,198.9 497.12,193.9 511.08,195.8 525.04,179.6 539,198.6 552.95,197.2 566.91,197.2 580.87,190.2 594.83,190.2 608.79,195.5 622.75,193.4" fill="none" stroke="#F8766D" stroke-width="0.55"/>
<polyline points="469.2,198.9 483.16,195.7 497.12,190.3 511.08,188.7 525.04,195.7 539,179.7 552.95,192.1 566.91,174.2 580.87,193.4 594.83,193.4 608.79,197.4 622.75,169" fill="none" stroke="#00BFC4" stroke-width="0.55"/>
<circle cx="469.2" cy="181.2" r="1.9" fill="#F8766D"/>
<circle cx="483.16" cy="198.9" r="1.9" fill="#F8766D"/>
<circle cx="497.12" cy="193.9" r="1.9" fill="#F8766D"/>
<circle cx="511.08" cy="195.8" r="1.9" fill="#F8766D"/>
<circle cx="525.04" cy="179.6" r="1.9" fill="#F8766D"/>
<circle cx="539" cy="198.6" r="1.9" fill="#F8766D"/>
<circle cx="552.95" cy="197.2" r="1.9" fill="#F8766D"/>
<circle cx="566.91" cy="197.2" r="1.9" fill="#F8766D"/>
<circle cx="580.87" cy="190.2" r="1.9" fill="#F8766D"/>
<circle cx="594.83" cy="190.2" r="1.9" fill="#F8766D"/>
<circle cx="608.79" cy="195.5" r="1.9" fill="#F8766D"/>
<circle cx="622.75" cy="193.4" r="1.9" fill="#F8766D"/>
<circle cx="469.2" cy="198.9" r="1.9" fill="#00BFC4"/>
<circle cx="483.16" cy="195.7" r="1.9" fill="#00BFC4"/>
<circle cx="497.12" cy="190.3" r="1.9" fill="#00BFC4"/>
<circle cx="511.08" cy="188.7" r="1.9" fill="#00BFC4"/>
<circle cx="525.04" cy="195.7" r="1.9" fill="#00BFC4"/>
<circle cx="539" cy="179.7" r="1.9" fill="#00BFC4"/>
<circle cx="552.95" cy="192.1" r="1.9" fill="#00BFC4"/>
<circle cx="566.91" cy="174.2" r="1.9" fill="#00BFC4"/>
<circle cx="580.87" cy="193.4" r="1.9" fill="#00BFC4"/>
<circle cx="594.83" cy="193.4" r="1.9" fill="#00BFC4"/>
<circle cx="608.79" cy="197.4" r="1.9" fill="#00BFC4"/>
<circle cx="622.75" cy="169" r="1.9" fill="#00BFC4"/>
<line x1="469.2" y1="190.6" x2="622.75" y2="194.4" stroke="#F8766D" stroke-width="1.25"/>
<line x1="469.2" y1="194.8" x2="622.75" y2="183.2" stroke="#00BFC4" stroke-width="1.25"/>
<line x1="545.4" y1="131.2" x2="545.4" y2="218.5" stroke="#6A5ACD" stroke-width="1.1"/>
<text x="446.3" y="131.6" font-size="10" font-weight="bold" fill="#000" stroke="#000" stroke-width="0.2" text-rendering="geometricPrecision" transform="matrix(0.93 0 0 1 31.24 0)">N</text>
<rect x="461.8" y="237.3" width="168.5" height="85.8" fill="#EBEBEB"/>
<path d="M461.8 312.15H630.3M461.8 296.65H630.3M461.8 281.15H630.3M461.8 265.65H630.3M461.8 250.15H630.3M462.22 237.3V323.1M476.18 237.3V323.1M490.14 237.3V323.1M504.1 237.3V323.1M518.06 237.3V323.1M532.02 237.3V323.1M545.98 237.3V323.1M559.93 237.3V323.1M573.89 237.3V323.1M587.85 237.3V323.1M601.81 237.3V323.1M615.77 237.3V323.1M629.73 237.3V323.1" stroke="#fff" stroke-opacity="0.5" stroke-width="0.9" fill="none"/>
<path d="M461.8 319.9H630.3M461.8 304.4H630.3M461.8 288.9H630.3M461.8 273.4H630.3M461.8 257.9H630.3M461.8 242.4H630.3M469.2 237.3V323.1M483.16 237.3V323.1M497.12 237.3V323.1M511.08 237.3V323.1M525.04 237.3V323.1M539 237.3V323.1M552.95 237.3V323.1M566.91 237.3V323.1M580.87 237.3V323.1M594.83 237.3V323.1M608.79 237.3V323.1M622.75 237.3V323.1" stroke="#fff" stroke-opacity="0.52" stroke-width="1" fill="none"/>
<path d="M459.6 319.9H461.8M459.6 304.4H461.8M459.6 288.9H461.8M459.6 273.4H461.8M459.6 257.9H461.8M459.6 242.4H461.8M469.2 323.1V325.3M483.16 323.1V325.3M497.12 323.1V325.3M511.08 323.1V325.3M525.04 323.1V325.3M539 323.1V325.3M552.95 323.1V325.3M566.91 323.1V325.3M580.87 323.1V325.3M594.83 323.1V325.3M608.79 323.1V325.3M622.75 323.1V325.3" stroke="#666" stroke-width="0.8" fill="none"/>
<text x="457.7" y="322.8" font-size="7.3" text-anchor="end" fill="#4D4D4D" transform="matrix(0.88 0 0 1 54.92 0)">0</text>
<text x="457.7" y="307.3" font-size="7.3" text-anchor="end" fill="#4D4D4D" transform="matrix(0.88 0 0 1 54.92 0)">5</text>
<text x="457.7" y="291.8" font-size="7.3" text-anchor="end" fill="#4D4D4D" transform="matrix(0.88 0 0 1 54.92 0)">10</text>
<text x="457.7" y="276.3" font-size="7.3" text-anchor="end" fill="#4D4D4D" transform="matrix(0.88 0 0 1 54.92 0)">15</text>
<text x="457.7" y="260.8" font-size="7.3" text-anchor="end" fill="#4D4D4D" transform="matrix(0.88 0 0 1 54.92 0)">20</text>
<text x="457.7" y="245.3" font-size="7.3" text-anchor="end" fill="#4D4D4D" transform="matrix(0.88 0 0 1 54.92 0)">25</text>
<text x="469.2" y="332.8" font-size="7.3" text-anchor="middle" fill="#4D4D4D" transform="matrix(0.88 0 0 1 56.3 0)">1</text>
<text x="483.16" y="332.8" font-size="7.3" text-anchor="middle" fill="#4D4D4D" transform="matrix(0.88 0 0 1 57.98 0)">2</text>
<text x="497.12" y="332.8" font-size="7.3" text-anchor="middle" fill="#4D4D4D" transform="matrix(0.88 0 0 1 59.65 0)">3</text>
<text x="511.08" y="332.8" font-size="7.3" text-anchor="middle" fill="#4D4D4D" transform="matrix(0.88 0 0 1 61.33 0)">4</text>
<text x="525.04" y="332.8" font-size="7.3" text-anchor="middle" fill="#4D4D4D" transform="matrix(0.88 0 0 1 63 0)">5</text>
<text x="539" y="332.8" font-size="7.3" text-anchor="middle" fill="#4D4D4D" transform="matrix(0.88 0 0 1 64.68 0)">6</text>
<text x="552.95" y="332.8" font-size="7.3" text-anchor="middle" fill="#4D4D4D" transform="matrix(0.88 0 0 1 66.35 0)">7</text>
<text x="566.91" y="332.8" font-size="7.3" text-anchor="middle" fill="#4D4D4D" transform="matrix(0.88 0 0 1 68.03 0)">8</text>
<text x="580.87" y="332.8" font-size="7.3" text-anchor="middle" fill="#4D4D4D" transform="matrix(0.88 0 0 1 69.7 0)">9</text>
<text x="594.83" y="332.8" font-size="7.3" text-anchor="middle" fill="#4D4D4D" transform="matrix(0.88 0 0 1 71.38 0)">10</text>
<text x="608.79" y="332.8" font-size="7.3" text-anchor="middle" fill="#4D4D4D" transform="matrix(0.88 0 0 1 73.05 0)">11</text>
<text x="622.75" y="332.8" font-size="7.3" text-anchor="middle" fill="#4D4D4D" transform="matrix(0.88 0 0 1 74.73 0)">12</text>
<polyline points="469.2,263 483.16,291.6 497.12,288.3 511.08,288.3 525.04,266.5 539,291.6 552.95,288.3 566.91,291.6 580.87,279.1 594.83,275.2 608.79,294.8 622.75,285.2" fill="none" stroke="#F8766D" stroke-width="0.55"/>
<polyline points="469.2,295.1 483.16,284.8 497.12,281.7 511.08,275.6 525.04,300.9 539,256.8 552.95,278.2 566.91,266.5 580.87,285.2 594.83,295.1 608.79,288.3 622.75,256.9" fill="none" stroke="#00BFC4" stroke-width="0.55"/>
<circle cx="469.2" cy="263" r="1.9" fill="#F8766D"/>
<circle cx="483.16" cy="291.6" r="1.9" fill="#F8766D"/>
<circle cx="497.12" cy="288.3" r="1.9" fill="#F8766D"/>
<circle cx="511.08" cy="288.3" r="1.9" fill="#F8766D"/>
<circle cx="525.04" cy="266.5" r="1.9" fill="#F8766D"/>
<circle cx="539" cy="291.6" r="1.9" fill="#F8766D"/>
<circle cx="552.95" cy="288.3" r="1.9" fill="#F8766D"/>
<circle cx="566.91" cy="291.6" r="1.9" fill="#F8766D"/>
<circle cx="580.87" cy="279.1" r="1.9" fill="#F8766D"/>
<circle cx="594.83" cy="275.2" r="1.9" fill="#F8766D"/>
<circle cx="608.79" cy="294.8" r="1.9" fill="#F8766D"/>
<circle cx="622.75" cy="285.2" r="1.9" fill="#F8766D"/>
<circle cx="469.2" cy="295.1" r="1.9" fill="#00BFC4"/>
<circle cx="483.16" cy="284.8" r="1.9" fill="#00BFC4"/>
<circle cx="497.12" cy="281.7" r="1.9" fill="#00BFC4"/>
<circle cx="511.08" cy="275.6" r="1.9" fill="#00BFC4"/>
<circle cx="525.04" cy="300.9" r="1.9" fill="#00BFC4"/>
<circle cx="539" cy="256.8" r="1.9" fill="#00BFC4"/>
<circle cx="552.95" cy="278.2" r="1.9" fill="#00BFC4"/>
<circle cx="566.91" cy="266.5" r="1.9" fill="#00BFC4"/>
<circle cx="580.87" cy="285.2" r="1.9" fill="#00BFC4"/>
<circle cx="594.83" cy="295.1" r="1.9" fill="#00BFC4"/>
<circle cx="608.79" cy="288.3" r="1.9" fill="#00BFC4"/>
<circle cx="622.75" cy="256.9" r="1.9" fill="#00BFC4"/>
<line x1="469.2" y1="279.6" x2="622.75" y2="286.6" stroke="#F8766D" stroke-width="1.25"/>
<line x1="469.2" y1="286.4" x2="622.75" y2="274.2" stroke="#00BFC4" stroke-width="1.25"/>
<line x1="545.4" y1="237.3" x2="545.4" y2="323.1" stroke="#6A5ACD" stroke-width="1.1"/>
<text x="446.3" y="236.5" font-size="10" font-weight="bold" fill="#000" stroke="#000" stroke-width="0.2" text-rendering="geometricPrecision" transform="matrix(0.93 0 0 1 31.24 0)">C</text>
<text x="545.65" y="342.4" font-size="7.6" font-weight="bold" text-anchor="middle" fill="#000" stroke="#000" stroke-width="0.3" transform="matrix(1.11 0 0 1 -60.02 0)">month</text>
<text x="640.6" y="164.2" font-size="7.6" fill="#1a1a1a">label</text>
<rect x="640.9" y="168.2" width="11.6" height="25.1" fill="#F2F2F2"/>
<line x1="641.8" y1="174.5" x2="651.6" y2="174.5" stroke="#F8766D" stroke-width="1.3"/>
<circle cx="646.7" cy="174.5" r="1.3" fill="#F8766D"/>
<line x1="641.8" y1="186.6" x2="651.6" y2="186.6" stroke="#00BFC4" stroke-width="1.3"/>
<circle cx="646.7" cy="186.6" r="1.3" fill="#00BFC4"/>
<text x="656.7" y="177.8" font-size="8.2" font-weight="bold" fill="#000">0</text>
<text x="656.7" y="190.3" font-size="8.2" font-weight="bold" fill="#000">2</text>
</svg>
</body></html>
